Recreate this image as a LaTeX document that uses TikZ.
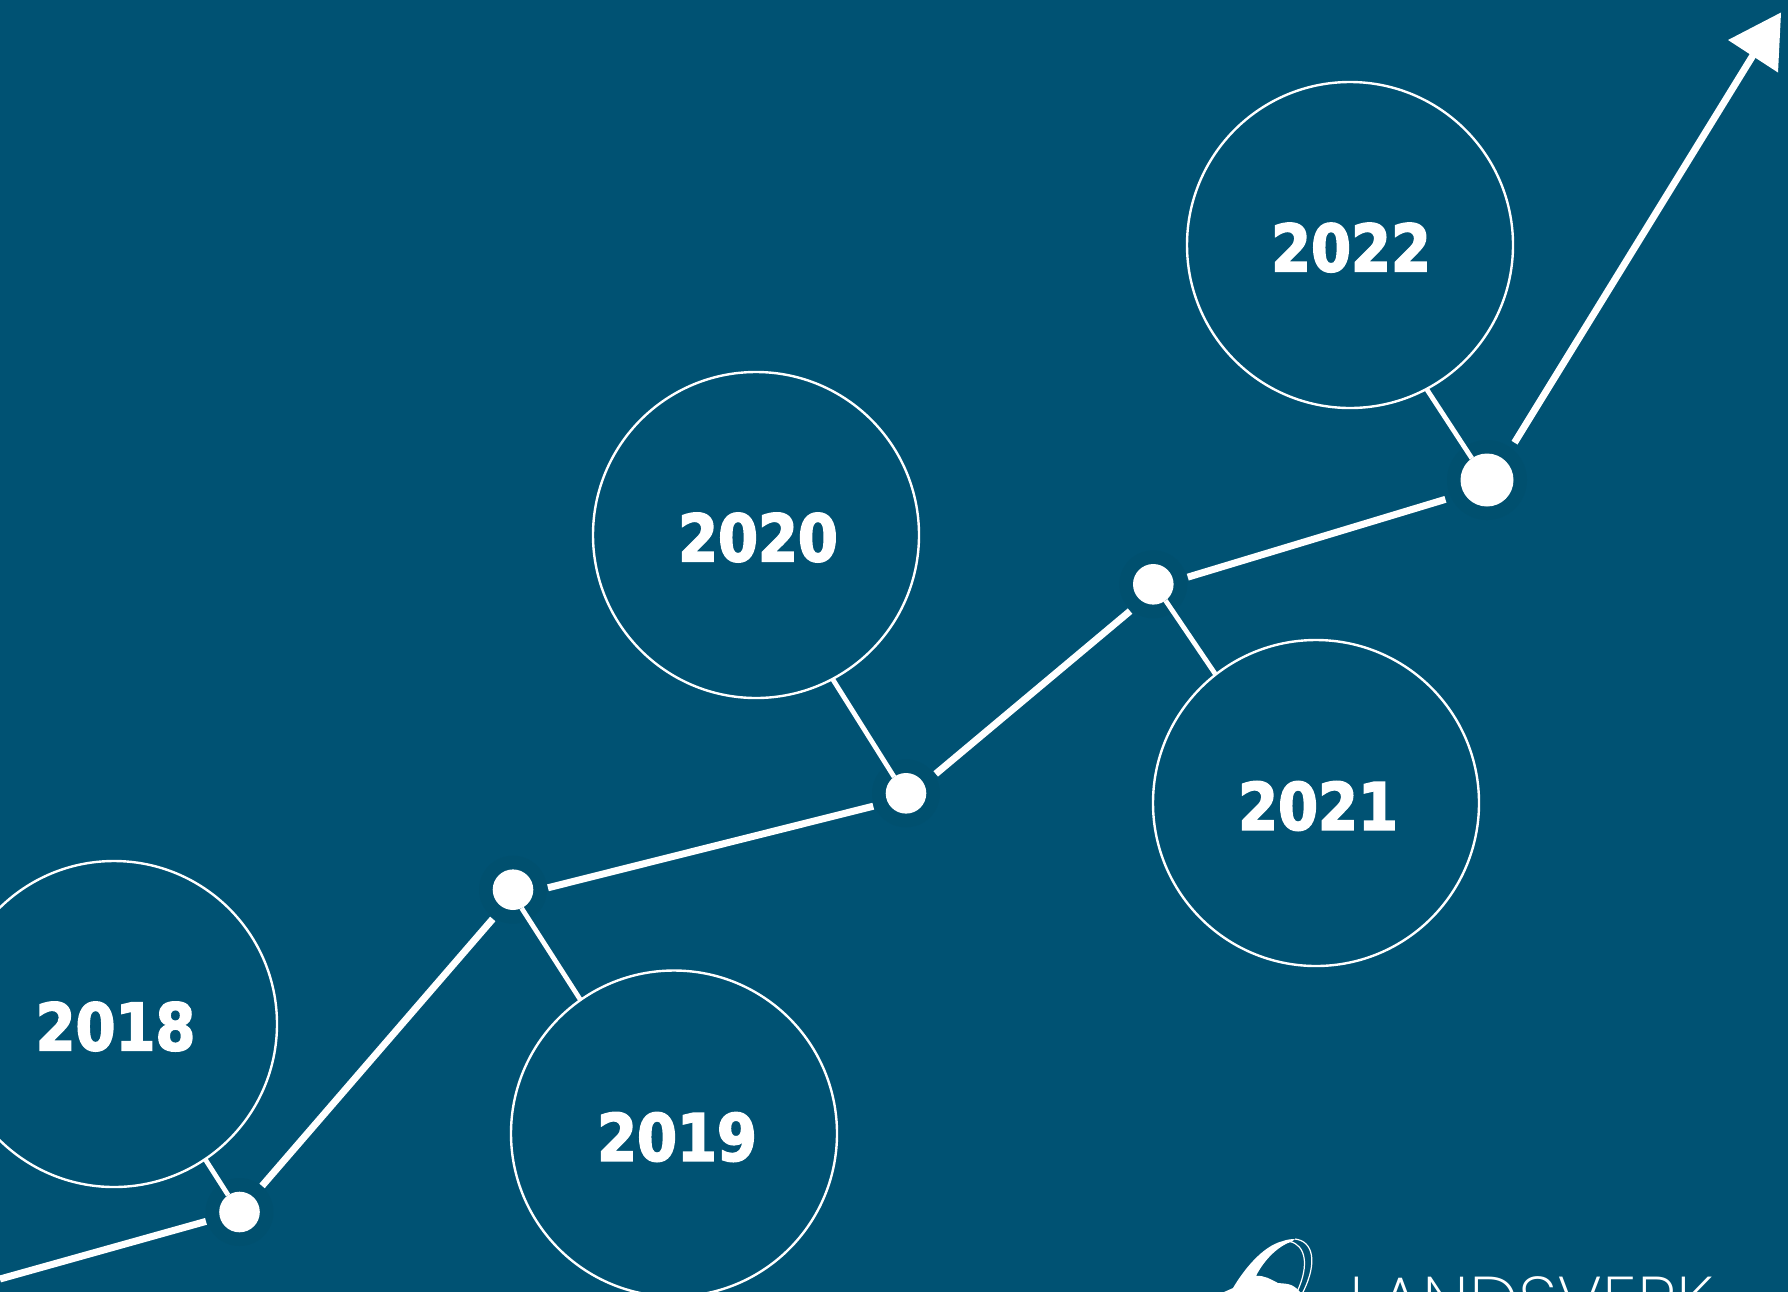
\documentclass[tikz,border=0pt]{standalone}
\usepackage{fontspec}
\newfontfamily\yearfont[BoldFeatures={FakeBold=2.6,FakeStretch=0.88}]{DejaVu Sans}
\newfontfamily\logofont{Poppins ExtraLight}
\definecolor{bgblue}{HTML}{005273}
\definecolor{halo}{HTML}{00506F}
\tikzset{
  ring/.style={circle,draw=white,line width=1.2pt,minimum size=163pt,inner sep=0pt,outer sep=0pt},
  dot/.style={circle,fill=white,minimum size=20.3pt,inner sep=0pt,outer sep=0pt},
  bigdot/.style={dot,minimum size=26.5pt},
  seg/.style={draw=white,line width=3.5pt},
  tie/.style={draw=white,line width=2.4pt},
  year/.style={text=white,inner sep=0pt,font=\yearfont\bfseries\fontsize{32.6}{34}\selectfont}
}
\begin{document}
\begin{tikzpicture}[x=0.5pt,y=-0.5pt]
\useasboundingbox (0,0) rectangle (1788,1292);
\clip (0,0) rectangle (1788,1292);
\fill[bgblue] (0,0) rectangle (1788,1292);
% faint halos behind the dots
\foreach \p in {(239.5,1212),(513,889.7),(906,793.3),(1153.3,584.3)} \fill[halo] \p circle (34);
\fill[halo] (1487,480) circle (40);
% rings
\node[ring] (c18) at (114,1024) {};
\node[ring] (c19) at (674,1133.5) {};
\node[ring] (c20) at (756,535) {};
\node[ring] (c21) at (1316,803) {};
\node[ring] (c22) at (1350,245) {};
% labels
\node[year] (t18) at (115.5,1026.5) {2018};
\node[year] (t19) at (677,1137) {2019};
\node[year] (t20) at (758,537.5) {2020};
\node[year] (t21) at (1318,806) {2021};
\node[year] (t22) at (1351,247.6) {2022};
% dots
\node[dot] (d18) at (239.5,1212) {};
\node[dot] (d19) at (513,889.7) {};
\node[dot] (d20) at (906,793.3) {};
\node[dot] (d21) at (1153.3,584.3) {};
\node[bigdot] (d22) at (1487,480) {};
% ties from rings to dots
\draw[tie] (c18.-56) -- (d18.124);
\draw[tie] (c19.125) -- (d19.-65);
\draw[tie] (c20.-62.2) -- (d20.126);
\draw[tie] (c21.128.9) -- (d21.-53);
\draw[tie] (c22.-62.3) -- (d22.125);
% rising line
\coordinate (start) at (0,1279);
\coordinate (tipbase) at (1755,52);
\coordinate (tipa) at (1781,12.5);
\coordinate (tipb) at (1728,40);
\coordinate (tipc) at (1778,72.5);
\draw[seg,shorten >=7.25pt] (start) -- (d18);
\draw[seg,shorten <=7.1pt,shorten >=7.7pt] (d18) -- (d19.240);
\draw[seg,shorten <=7.6pt,shorten >=7.55pt] (d19.-5) -- (d20.207);
\draw[seg,shorten <=7.7pt,shorten >=7.75pt] (d20.28) -- (d21.236);
\draw[seg,shorten <=7.5pt,shorten >=9.85pt] (d21.8) -- (d22.211);
\draw[seg,shorten <=10pt] (d22.50) -- (tipbase);
\fill[white] (tipa) -- (tipb) -- (tipc) -- cycle;
% logo
\fill[white] (1224,1292) -- (1233,1288)
  .. controls (1243,1271) and (1262,1246) .. (1283,1241)
  .. controls (1287,1239.5) and (1291,1239) .. (1295,1239)
  -- (1292,1241.5)
  .. controls (1280,1245) and (1265,1258) .. (1256,1276)
  .. controls (1264,1275) and (1270,1279) .. (1278,1283)
  .. controls (1284,1284) and (1292,1282) .. (1300,1292) -- cycle;
\draw[white,line width=0.6pt] (1295,1239) .. controls (1313,1241) and (1318,1262) .. (1303,1292);
\draw[white,line width=0.6pt] (1290,1241.5) .. controls (1305,1245) and (1310,1264) .. (1297,1292);
\node[anchor=base west,text=white,inner sep=0pt,font=\logofont\fontsize{35.2}{36}\selectfont] (logo) at (1349,1326) {LANDSVERK};
\end{tikzpicture}
\end{document}
